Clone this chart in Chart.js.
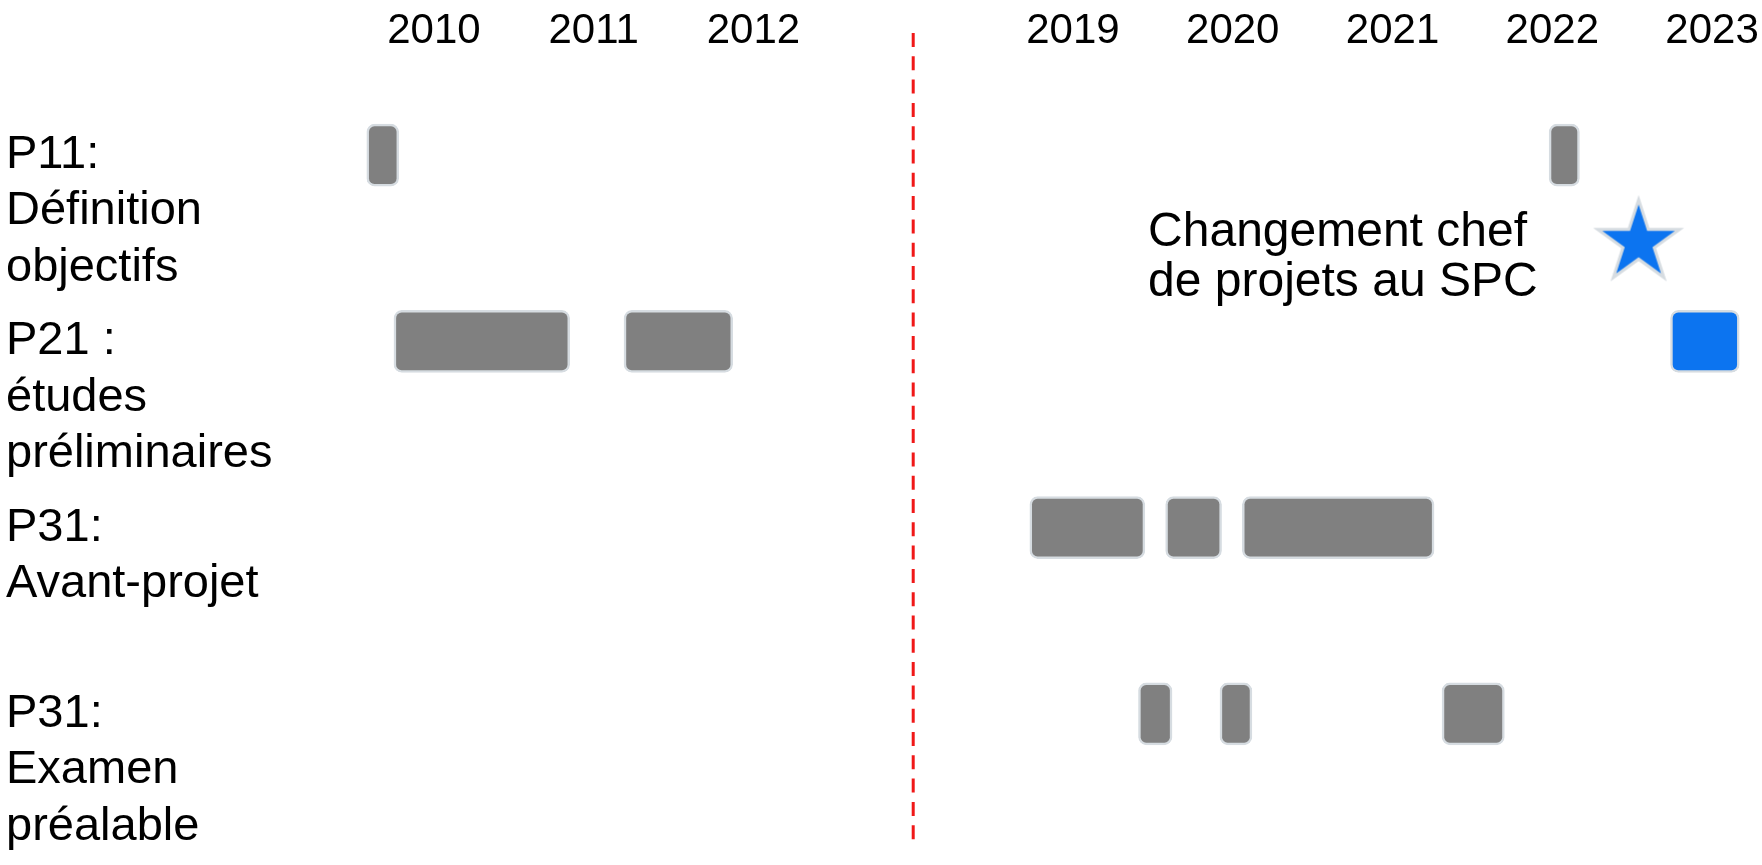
<!DOCTYPE html>
<html>
<head>
<meta charset="utf-8">
<script src="https://cdn.jsdelivr.net/npm/chart.js@4"></script>
<style>
  html, body { margin: 0; padding: 0; background: #fff; overflow: hidden; }
</style>
</head>
<body>
<canvas id="myChart" width="1800" height="865"></canvas>
<script>
// 행 레이블 (y축)
const rowText = [
    ['P11:', 'Définition', 'objectifs'],
    ['P21 :', 'études', 'préliminaires'],
    ['P31:', 'Avant-projet'],
    ['P31:', 'Examen', 'préalable']
];

// x축 눈금 (연도) - 2013~2018 구간은 생략됨
const tickYears = [2010, 2011, 2012, 2019, 2020, 2021, 2022, 2023];

// 회색 막대: 행 번호, 시작, 끝 (연도)
const grayRow   = [0, 0, 1, 1, 2, 2, 2, 3, 3, 3];
const grayStart = [2009.58, 2021.98, 2009.75, 2011.19, 2018.73, 2019.58, 2020.06, 2019.41, 2019.92, 2021.31];
const grayEnd   = [2009.78, 2022.17, 2010.85, 2011.87, 2019.45, 2019.93, 2021.26, 2019.62, 2020.12, 2021.70];

// 파란 막대
const blueRow   = [1];
const blueStart = [2022.74];
const blueEnd   = [2023.17];

// 별 표시와 주석
const starYear = 2022.54;
const starRow = 0.47;
const noteYear = 2019.47;
const noteLines = ['Changement chef', 'de projets au SPC'];

const FONT = '"Liberation Sans", Arial, sans-serif';
const GRAY = '#808080';
const BLUE = '#0c74f0';
const EDGE = '#d6dce1';

// 생략 구간을 접은 축 위치 (2012 -> 2, 2019 -> 4)
function axisPos(year) {
    return year < 2015 ? year - 2010 : year - 2015;
}
const breakPos = 3;

function makeBars(rows, starts, ends) {
    return rows.map((r, i) => ({ y: r, x: [axisPos(starts[i]), axisPos(ends[i])] }));
}

// 별 모양 포인트 이미지
function makeStar(r, fill, stroke, lw) {
    const c = document.createElement('canvas');
    const s = Math.ceil(2 * r + 2 * lw + 6);
    c.width = s;
    c.height = s;
    const g = c.getContext('2d');
    g.translate(s / 2, s / 2);
    g.beginPath();
    for (let i = 0; i < 10; i++) {
        const rad = i % 2 === 0 ? r : r * 0.382;
        const a = -Math.PI / 2 + i * Math.PI / 5;
        g.lineTo(rad * Math.cos(a), rad * Math.sin(a));
    }
    g.closePath();
    g.fillStyle = fill;
    g.fill();
    g.lineWidth = lw;
    g.strokeStyle = stroke;
    g.stroke();
    return c;
}

// 점선 구분선과 주석 텍스트
const extras = {
    id: 'extras',
    beforeDatasetsDraw(chart) {
        const c = chart.ctx;
        const x = chart.scales.x.getPixelForValue(breakPos);
        c.save();
        c.strokeStyle = '#f01818';
        c.lineWidth = 3;
        c.setLineDash([14, 9.3]);
        c.beginPath();
        c.moveTo(x, 33);
        c.lineTo(x, 842);
        c.stroke();
        c.restore();
    },
    afterDraw(chart) {
        const c = chart.ctx;
        const x = chart.scales.x.getPixelForValue(axisPos(noteYear));
        const y = chart.scales.y.getPixelForValue(starRow);
        c.save();
        c.fillStyle = '#000';
        c.font = '48px ' + FONT;
        c.textAlign = 'left';
        c.textBaseline = 'alphabetic';
        c.fillText(noteLines[0], x, y + 3);
        c.fillText(noteLines[1], x, y + 53);
        c.restore();
    }
};

const ctx = document.getElementById('myChart').getContext('2d');
const myChart = new Chart(ctx, {
    type: 'bar',
    data: {
        datasets: [{
            label: 'phases',
            data: makeBars(grayRow, grayStart, grayEnd),
            backgroundColor: GRAY,
            borderColor: EDGE,
            borderWidth: 2.5,
            borderRadius: 8,
            borderSkipped: false,
            barThickness: 62,
            grouped: false
        }, {
            label: 'phase actuelle',
            data: makeBars(blueRow, blueStart, blueEnd),
            backgroundColor: BLUE,
            borderColor: EDGE,
            borderWidth: 2.5,
            borderRadius: 8,
            borderSkipped: false,
            barThickness: 62,
            grouped: false
        }, {
            type: 'scatter',
            label: 'changement',
            data: [{ x: axisPos(starYear), y: starRow }],
            pointStyle: makeStar(43, BLUE, EDGE, 3),
            pointRadius: 43
        }]
    },
    options: {
        indexAxis: 'y',
        responsive: false,
        animation: false,
        layout: { autoPadding: false, padding: { left: 6, right: 40, top: 0, bottom: 58 } },
        plugins: {
            legend: { display: false },
            tooltip: { enabled: false }
        },
        scales: {
            x: {
                type: 'linear',
                position: 'top',
                min: -0.5,
                max: 8.3,
                offset: false,
                grid: { display: false, drawTicks: false },
                border: { display: false },
                afterBuildTicks: scale => {
                    scale.ticks = tickYears.map(y => ({ value: axisPos(y) }));
                },
                afterFit: scale => { scale.height = 62; },
                ticks: {
                    autoSkip: false,
                    maxRotation: 0,
                    padding: 5,
                    color: '#000',
                    font: { family: FONT, size: 42 },
                    callback: (value, index) => String(tickYears[index])
                }
            },
            y: {
                type: 'linear',
                reverse: true,
                min: -0.5,
                max: 3.5,
                offset: false,
                grid: { display: false, drawTicks: false },
                border: { display: false },
                afterBuildTicks: scale => {
                    scale.ticks = rowText.map((t, i) => ({ value: i }));
                },
                afterFit: scale => {
                    scale.width = 348;
                    // 여러 줄 레이블 때문에 생기는 위아래 여백 제거
                    scale.paddingTop = 0;
                    scale.paddingBottom = 0;
                },
                ticks: {
                    autoSkip: false,
                    crossAlign: 'far',
                    padding: 0,
                    color: '#000',
                    font: { family: FONT, size: 47, lineHeight: 1.2 },
                    // 첫 줄이 행 중앙에 오도록 앞에 빈 줄 추가
                    callback: value => {
                        const lines = rowText[value];
                        return Array(lines.length - 1).fill('').concat(lines);
                    }
                }
            }
        }
    },
    plugins: [extras]
});
</script>
</body>
</html>
